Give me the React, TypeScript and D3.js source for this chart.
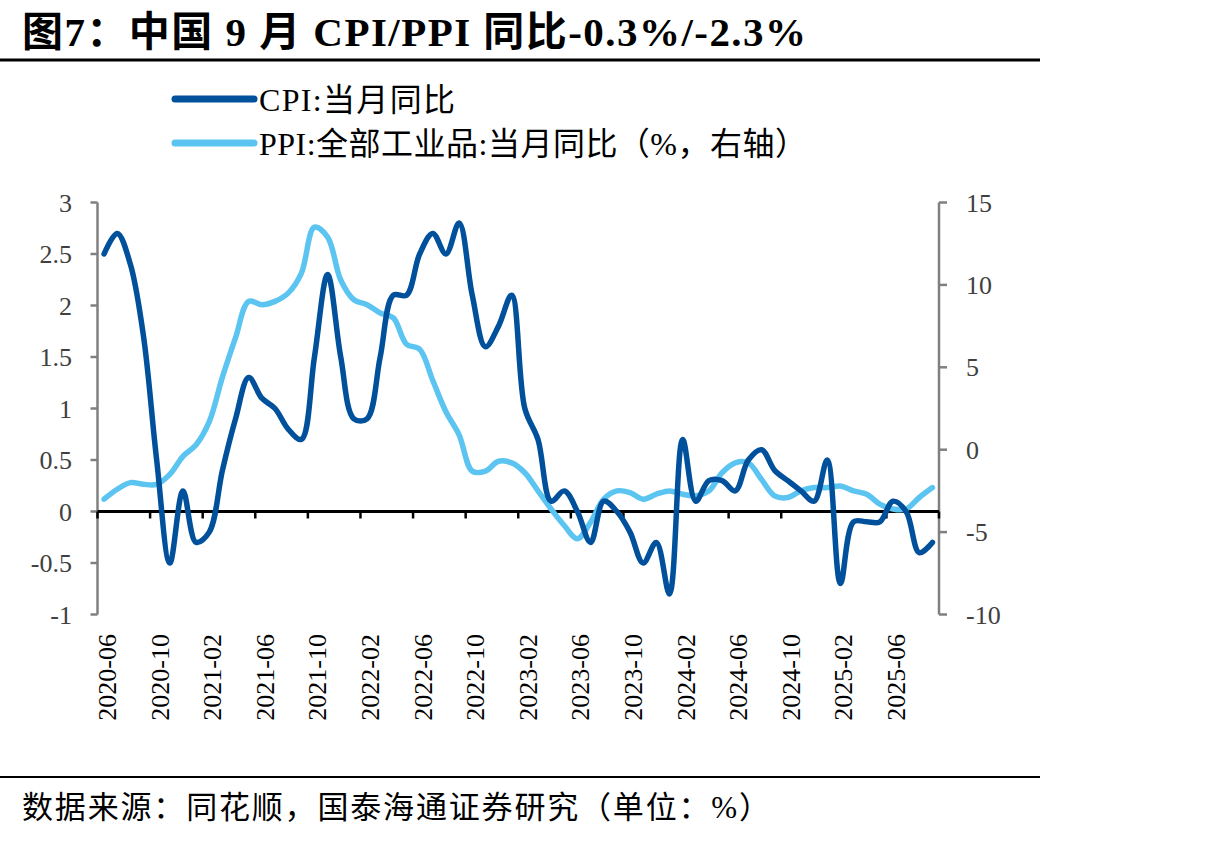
import React from 'react';
import * as d3 from 'd3';

const W = 1215;
const H = 843;
const margin = { top: 202.5, right: 276, bottom: 228, left: 97.5 };

const months = [
  '2020-06', '2020-07', '2020-08', '2020-09', '2020-10', '2020-11', '2020-12',
  '2021-01', '2021-02', '2021-03', '2021-04', '2021-05', '2021-06', '2021-07', '2021-08', '2021-09', '2021-10', '2021-11', '2021-12',
  '2022-01', '2022-02', '2022-03', '2022-04', '2022-05', '2022-06', '2022-07', '2022-08', '2022-09', '2022-10', '2022-11', '2022-12',
  '2023-01', '2023-02', '2023-03', '2023-04', '2023-05', '2023-06', '2023-07', '2023-08', '2023-09', '2023-10', '2023-11', '2023-12',
  '2024-01', '2024-02', '2024-03', '2024-04', '2024-05', '2024-06', '2024-07', '2024-08', '2024-09', '2024-10', '2024-11', '2024-12',
  '2025-01', '2025-02', '2025-03', '2025-04', '2025-05', '2025-06', '2025-07', '2025-08', '2025-09',
];

// CPI 当月同比 (left axis)
const cpi = [
  2.5, 2.7, 2.4, 1.7, 0.5, -0.5, 0.2,
  -0.3, -0.2, 0.4, 0.9, 1.3, 1.1, 1.0, 0.8, 0.7, 1.5, 2.3, 1.5,
  0.9, 0.9, 1.5, 2.1, 2.1, 2.5, 2.7, 2.5, 2.8, 2.1, 1.6, 1.8,
  2.1, 1.0, 0.7, 0.1, 0.2, 0.0, -0.3, 0.1, 0.0, -0.2, -0.5, -0.3,
  -0.8, 0.7, 0.1, 0.3, 0.3, 0.2, 0.5, 0.6, 0.4, 0.3, 0.2, 0.1,
  0.5, -0.7, -0.1, -0.1, -0.1, 0.1, 0.0, -0.4, -0.3,
];

// PPI 全部工业品 当月同比 (right axis)
const ppi = [
  -3.0, -2.4, -2.0, -2.1, -2.1, -1.5, -0.4,
  0.3, 1.7, 4.4, 6.8, 9.0, 8.8, 9.0, 9.5, 10.7, 13.5, 12.9, 10.3,
  9.1, 8.8, 8.3, 8.0, 6.4, 6.1, 4.2, 2.3, 0.9, -1.3, -1.3, -0.7,
  -0.8, -1.4, -2.5, -3.6, -4.6, -5.4, -4.4, -3.0, -2.5, -2.6, -3.0, -2.7,
  -2.5, -2.7, -2.8, -2.5, -1.4, -0.8, -0.8, -1.8, -2.8, -2.9, -2.5, -2.3,
  -2.3, -2.2, -2.5, -2.7, -3.3, -3.6, -3.6, -2.9, -2.3,
];

const leftTicks = [3, 2.5, 2, 1.5, 1, 0.5, 0, -0.5, -1];
const rightTicks = [15, 10, 5, 0, -5, -10];
const xLabels = ['2020-06', '2020-10', '2021-02', '2021-06', '2021-10', '2022-02', '2022-06', '2022-10',
  '2023-02', '2023-06', '2023-10', '2024-02', '2024-06', '2024-10', '2025-02', '2025-06'];

const title = '图7：中国 9 月 CPI/PPI 同比-0.3%/-2.3%';
const legendItems = ['CPI:当月同比', 'PPI:全部工业品:当月同比（%，右轴）'];
const legendLengths = [196, 548];
const source = '数据来源：同花顺，国泰海通证券研究（单位：%）';

const CPI_COLOR = '#00509b';
const PPI_COLOR = '#5bc4f1';
const FONT = "'Liberation Serif', 'Noto Sans CJK SC', serif";

export default function App() {
  const x = d3.scaleBand<string>().domain(months).range([margin.left, W - margin.right]).padding(0);
  const yL = d3.scaleLinear().domain([-1, 3]).range([H - margin.bottom - 0.5, margin.top]);
  const yR = d3.scaleLinear().domain([-10, 15]).range([H - margin.bottom - 0.5, margin.top]);
  const cx = (m: string) => (x(m) as number) + x.bandwidth() / 2;

  const cpiLine = d3.line<number>()
    .x((_, i) => cx(months[i]))
    .y(d => yL(d))
    .curve(d3.curveCatmullRom.alpha(0.5));
  const ppiLine = d3.line<number>()
    .x((_, i) => cx(months[i]))
    .y(d => yR(d))
    .curve(d3.curveCatmullRom.alpha(0.5));

  const x0 = margin.left;
  const x1 = W - margin.right;
  const zeroY = yL(0);
  const boundaryTicks = [...xLabels.map(m => x(m) as number), x1];

  return (
    <svg width={W} height={H} style={{ position: 'absolute', left: 0, top: 0, background: '#fff' }} fontFamily={FONT}>
      {/* title */}
      <text x={22} y={46} fontSize={41} fontWeight="bold" fill="#000" textLength={784} lengthAdjust="spacing">{title}</text>
      <line x1={0} x2={1040} y1={60} y2={60} stroke="#000" strokeWidth={3} />

      {/* legend */}
      {legendItems.map((t, i) => (
        <g key={t} transform={`translate(0,${99 + i * 44})`}>
          <line x1={175} x2={254} y1={0} y2={0} stroke={i === 0 ? CPI_COLOR : PPI_COLOR} strokeWidth={7} strokeLinecap="round" />
          <text x={259} y={12} fontSize={32} fill="#000" textLength={legendLengths[i]} lengthAdjust="spacing">{t}</text>
        </g>
      ))}

      {/* left axis */}
      <line x1={x0} x2={x0} y1={yL(3)} y2={yL(-1)} stroke="#808080" strokeWidth={2.5} />
      {leftTicks.map(t => (
        <g key={t}>
          <line x1={x0 - 7} x2={x0} y1={yL(t)} y2={yL(t)} stroke="#808080" strokeWidth={2.5} />
          <text x={72} y={yL(t) + 9} fontSize={26} textAnchor="end" fill="#404040">{t}</text>
        </g>
      ))}

      {/* right axis */}
      <line x1={x1} x2={x1} y1={yR(15)} y2={yR(-10)} stroke="#808080" strokeWidth={2.5} />
      {rightTicks.map(t => (
        <g key={t}>
          <line x1={x1} x2={x1 + 8} y1={yR(t)} y2={yR(t)} stroke="#808080" strokeWidth={2.5} />
          <text x={966} y={yR(t) + 9} fontSize={26} textAnchor="start" fill="#404040">{t}</text>
        </g>
      ))}

      {/* zero line with category ticks */}
      <line x1={x0} x2={x1} y1={zeroY} y2={zeroY} stroke="#000" strokeWidth={3} />
      {boundaryTicks.map((bx, i) => (
        <line key={i} x1={bx} x2={bx} y1={zeroY} y2={zeroY + 7} stroke="#000" strokeWidth={2.5} />
      ))}

      {/* x labels */}
      {xLabels.map(m => (
        <text key={m} transform={`translate(${cx(m) + 12},634) rotate(-90)`} fontSize={26} textAnchor="end" fill="#000">{m}</text>
      ))}

      {/* series */}
      <path d={ppiLine(ppi) || ''} fill="none" stroke={PPI_COLOR} strokeWidth={5.5} strokeLinejoin="round" strokeLinecap="round" />
      <path d={cpiLine(cpi) || ''} fill="none" stroke={CPI_COLOR} strokeWidth={5.5} strokeLinejoin="round" strokeLinecap="round" />

      {/* source */}
      <line x1={0} x2={1040} y1={777} y2={777} stroke="#000" strokeWidth={2} />
      <text x={22} y={818} fontSize={31} fill="#000" textLength={748} lengthAdjust="spacing">{source}</text>
    </svg>
  );
}
